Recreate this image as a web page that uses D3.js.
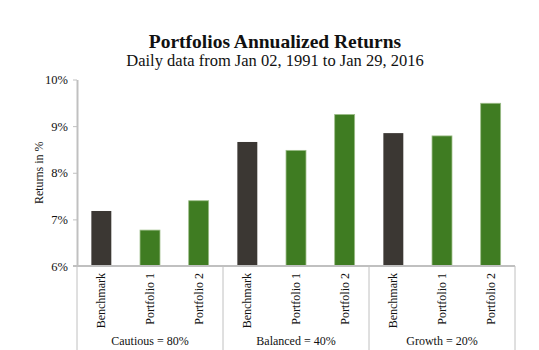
<!DOCTYPE html>
<html><head><meta charset="utf-8">
<script src="https://cdn.jsdelivr.net/npm/d3@7"></script>
<style>
body{margin:0;background:#fff;}
svg text{font-family:"Liberation Serif","DejaVu Serif",serif;fill:#111;}
</style></head>
<body><svg id="c" width="539" height="350"></svg>
<script>
const groups = ["Cautious = 80%", "Balanced = 40%", "Growth = 20%"];
const categories = ["Benchmark", "Portfolio 1", "Portfolio 2"];
const benchmark = [7.18, 8.66, 8.85];
const portfolio1 = [6.77, 8.48, 8.79];
const portfolio2 = [7.40, 9.25, 9.49];
const yTicks = [6, 7, 8, 9, 10];
const title = "Portfolios Annualized Returns";
const subtitle = "Daily data from Jan 02, 1991 to Jan 29, 2016";
const yLabel = "Returns in %";

const seriesValues = [benchmark, portfolio1, portfolio2];
const data = [];
groups.forEach((g, gi) => categories.forEach((c, ci) => data.push({group: g, cat: c, value: seriesValues[ci][gi]})));

const svg = d3.select("#c");
const m = {left: 77, right: 24, top: 79.5, bottom: 84};
const W = 539, H = 350;
const x0 = d3.scaleBand().domain(groups).range([m.left, W - m.right]).padding(0);
const x1 = d3.scaleBand().domain(categories).range([0, x0.bandwidth()]).paddingInner(0.59).paddingOuter(0.295);
const y = d3.scaleLinear().domain([6, 10]).range([H - m.bottom, m.top]);
const colors = {"Benchmark": "#3b3733", "Portfolio 1": "#3f7c22", "Portfolio 2": "#3f7c22"};
const strokes = {"Benchmark": "none", "Portfolio 1": "#9cbd88", "Portfolio 2": "#9cbd88"};

// Title
svg.append("text").attr("x", 275).attr("y", 48).attr("text-anchor", "middle")
  .style("font-size", "19.5px").style("font-weight", "bold").text(title);
svg.append("text").attr("x", 275).attr("y", 65.5).attr("text-anchor", "middle")
  .style("font-size", "16.5px").text(subtitle);

// Bars
svg.append("g").selectAll("rect").data(data).join("rect")
  .attr("x", d => x0(d.group) + x1(d.cat))
  .attr("width", x1.bandwidth())
  .attr("y", d => y(d.value))
  .attr("height", d => y(6) - y(d.value))
  .attr("fill", d => colors[d.cat])
  .attr("stroke", d => strokes[d.cat])
  .attr("stroke-width", 0.8);

// Y axis
const yAxis = svg.append("g").attr("transform", `translate(${m.left},0)`)
  .call(d3.axisLeft(y).tickValues(yTicks).tickFormat(d => d + "%").tickSize(4).tickSizeOuter(0).tickPadding(5));
yAxis.attr("font-family", null);
yAxis.select(".domain").attr("stroke", "#c0c0c0").attr("stroke-width", 2);
yAxis.selectAll(".tick line").attr("stroke", "#c0c0c0").attr("stroke-width", 1);
yAxis.selectAll(".tick text").style("font-family", "'Liberation Serif', serif").style("font-size", "12.5px").attr("fill", "#111");

svg.append("text").attr("transform", `translate(43,${(y(6) + y(10)) / 2}) rotate(-90)`)
  .attr("text-anchor", "middle").style("font-size", "12px").text(yLabel);

// X axis line
svg.append("line").attr("x1", m.left - 4).attr("x2", W - m.right).attr("y1", y(6)).attr("y2", y(6))
  .attr("stroke", "#c0c0c0").attr("stroke-width", 2);

// Group dividers
const bounds = groups.map(g => x0(g)).concat([x0(groups[groups.length - 1]) + x0.bandwidth()]);
svg.append("g").selectAll("line").data(bounds).join("line")
  .attr("x1", d => d).attr("x2", d => d).attr("y1", y(6)).attr("y2", H)
  .attr("stroke", "#c0c0c0").attr("stroke-width", 1);

// Category labels
svg.append("g").selectAll("text").data(data).join("text")
  .attr("transform", d => `translate(${x0(d.group) + x1(d.cat) + x1.bandwidth() / 2 + 4},${y(6) + 7}) rotate(-90)`)
  .attr("text-anchor", "end").style("font-size", "12px").text(d => d.cat);

// Group labels
svg.append("g").selectAll("text").data(groups).join("text")
  .attr("x", d => x0(d) + x0.bandwidth() / 2).attr("y", 345)
  .attr("text-anchor", "middle").style("font-size", "12px").text(d => d);
</script></body></html>
